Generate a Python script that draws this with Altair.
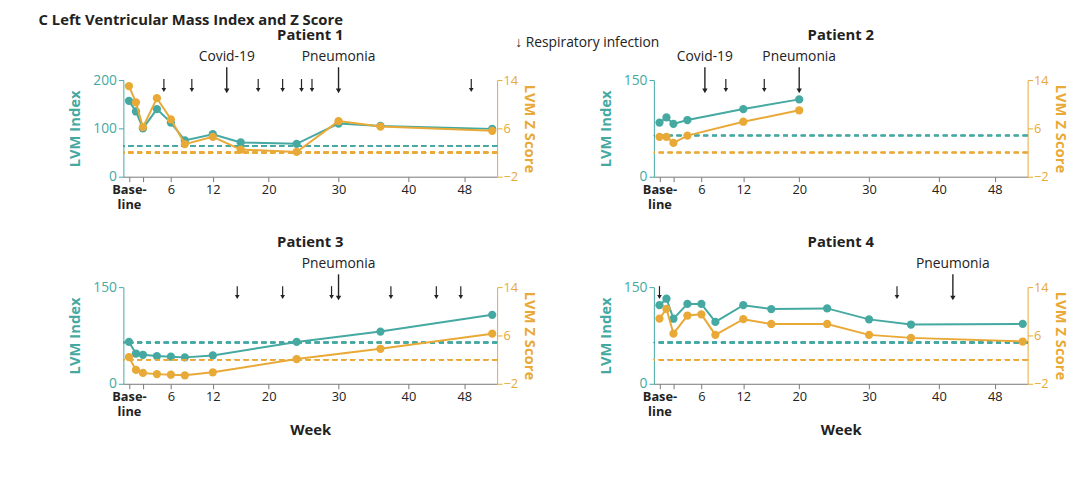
import altair as alt
import pandas as pd

TEAL = "#45a9a2"
GOLD = "#e9a937"
INK = "#222222"
FONT = "Open Sans"

WEEK_TICKS = [0, 1, 2, 4, 6, 8, 12, 16, 20, 24, 30, 36, 40, 44, 48, 52]
Z_TICKS = [-2, 0, 2, 4, 6, 8, 10, 12, 14]
LVMI_NORMAL = 64
Z_NORMAL = 2

p1_weeks = [0, 1, 2, 4, 6, 8, 12, 16, 24, 30, 36, 52]
p1_lvmi = [157, 135, 100, 140, 112, 75, 88, 71, 68, 110, 105, 99]
p1_z = [13, 10.3, 6.2, 11, 7.5, 3.4, 4.6, 2.5, 2.1, 7.2, 6.3, 5.6]
p1_small = [5, 9, 18.5, 22, 24.7, 26.2, 49]
p1_big = [14, 30]
p1_big_labels = ["Covid-19", "Pneumonia"]

p2_weeks = [0, 1, 2, 4, 12, 20]
p2_lvmi = [84, 92, 82, 88, 105, 120]
p2_z = [4.6, 4.6, 3.6, 4.8, 7.1, 9]
p2_small = [9.5, 15]
p2_big = [6.5, 20]
p2_big_labels = ["Covid-19", "Pneumonia"]

p3_weeks = [0, 1, 2, 4, 6, 8, 12, 24, 36, 52]
p3_lvmi = [65, 47, 45, 43, 42, 41, 44, 65, 81, 107]
p3_z = [2.4, 0.3, -0.2, -0.4, -0.5, -0.6, -0.1, 2.1, 3.8, 6.3]
p3_small = [15.5, 22, 29, 37.5, 44, 47.5]
p3_big = [30]
p3_big_labels = ["Pneumonia"]

p4_weeks = [0, 1, 2, 4, 6, 8, 12, 16, 24, 30, 36, 52]
p4_lvmi = [122, 132, 101, 124, 124, 96, 122, 116, 117, 100, 92, 93]
p4_z = [8.8, 10.4, 6.3, 9.3, 9.5, 6.1, 8.7, 7.9, 7.9, 6.1, 5.6, 5.0]
p4_small = [0, 34]
p4_big = [42]
p4_big_labels = ["Pneumonia"]

W, H = 379, 98


def panel(title, weeks, lvmi, z, small, big, big_labels, ymax, bottom):
    df = pd.DataFrame({"week": weeks, "lvmi": lvmi, "z": z})
    x = alt.X(
        "week:Q",
        scale=alt.Scale(domain=[-0.8, 52.7], nice=False, zero=False),
        axis=alt.Axis(
            values=WEEK_TICKS, grid=False, domainColor="#777", tickColor="#777",
            labelColor=INK, labelFontSize=13, labelPadding=2,
            labelOverlap=False, labelFlush=False,
            labelExpr="datum.value == 0 ? ['Base-', 'line'] : (datum.value < 3 ? '' : datum.label)",
            labelFontWeight={"condition": {"test": "datum.value == 0", "value": "bold"}, "value": "normal"},
            title="Week" if bottom else None, titleFontSize=15, titleColor=INK, titlePadding=4,
        ),
    )
    base = alt.Chart(df)
    yl = alt.Y(
        "lvmi:Q", scale=alt.Scale(domain=[0, ymax], nice=False),
        axis=alt.Axis(
            values=list(range(0, ymax + 1, 50)), grid=False, title="LVM Index",
            domainColor=TEAL, tickColor=TEAL, labelColor=TEAL, titleColor=TEAL,
            labelFontSize=14, titleFontSize=15, labelOverlap=False, titlePadding=10,
        ),
    )
    yr = alt.Y(
        "z:Q", scale=alt.Scale(domain=[-2, 14], nice=False),
        axis=alt.Axis(
            orient="right", values=Z_TICKS, grid=False, title="LVM Z Score",
            domainColor=GOLD, tickColor=GOLD, labelColor=GOLD, titleColor=GOLD,
            labelFontSize=13, titleFontSize=15, labelPadding=1, labelOverlap=False,
            labelExpr="datum.value < 0 ? '\u2212' + abs(datum.value) : datum.label",
        ),
    )
    left = [
        base.mark_rule(color=TEAL, strokeDash=[5, 4], strokeWidth=1.5).encode(y=alt.datum(LVMI_NORMAL)),
        base.mark_line(color=TEAL, strokeWidth=2).encode(x=x, y=yl),
        base.mark_circle(color=TEAL, size=70, opacity=1).encode(x=x, y=yl),
    ]
    sm = alt.Chart(pd.DataFrame({"week": small}))
    bg = alt.Chart(pd.DataFrame({"week": big, "label": big_labels}))
    xa = alt.X("week:Q")
    left += [
        sm.mark_rule(color=INK, strokeWidth=1.2).encode(x=xa, y=alt.value(-1), y2=alt.value(9)),
        sm.mark_point(shape="triangle-down", filled=True, color=INK, size=22, opacity=1).encode(x=xa, y=alt.value(10)),
        bg.mark_rule(color=INK, strokeWidth=1.4).encode(x=xa, y=alt.value(-13), y2=alt.value(10)),
        bg.mark_point(shape="triangle-down", filled=True, color=INK, size=30, opacity=1).encode(x=xa, y=alt.value(11)),
        bg.mark_text(fontSize=14, font=FONT, color=INK, baseline="bottom").encode(x=xa, y=alt.value(-16), text="label:N"),
    ]
    right = [
        base.mark_rule(color=GOLD, strokeDash=[5, 4], strokeWidth=1.5).encode(y=alt.datum(Z_NORMAL)),
        base.mark_line(color=GOLD, strokeWidth=2).encode(x=x, y=yr),
        base.mark_circle(color=GOLD, size=70, opacity=1).encode(x=x, y=yr),
    ]
    return (
        alt.layer(alt.layer(*left), alt.layer(*right))
        .resolve_scale(y="independent")
        .properties(
            width=W, height=H,
            title=alt.TitleParams(title, fontSize=15, fontWeight="bold", color=INK, offset=8),
        )
    )


top = alt.hconcat(
    panel("Patient 1", p1_weeks, p1_lvmi, p1_z, p1_small, p1_big, p1_big_labels, 200, False),
    panel("Patient 2", p2_weeks, p2_lvmi, p2_z, p2_small, p2_big, p2_big_labels, 150, False),
    spacing=62,
).properties(
    title=alt.TitleParams(
        "\u2193 Respiratory infection", anchor="middle", fontSize=14,
        fontWeight="normal", color=INK, offset=-22, dx=20,
    )
)
bottom = alt.hconcat(
    panel("Patient 3", p3_weeks, p3_lvmi, p3_z, p3_small, p3_big, p3_big_labels, 150, True),
    panel("Patient 4", p4_weeks, p4_lvmi, p4_z, p4_small, p4_big, p4_big_labels, 150, True),
    spacing=62,
)
chart = (
    alt.vconcat(top, bottom, spacing=24)
    .properties(
        padding={"left": 30, "top": 2, "right": 5, "bottom": 5},
        title=alt.TitleParams(
            "C  Left Ventricular Mass Index and Z Score", anchor="start",
            fontSize=15, fontWeight="bold", color=INK, offset=0, dx=-30,
        ),
    )
    .configure(font=FONT, background="white")
    .configure_view(stroke=None)
    .configure_axis(labelFont=FONT, titleFont=FONT, titleFontWeight="bold")
)

chart.save("out.html", embed_options={"renderer": "svg", "actions": False})
